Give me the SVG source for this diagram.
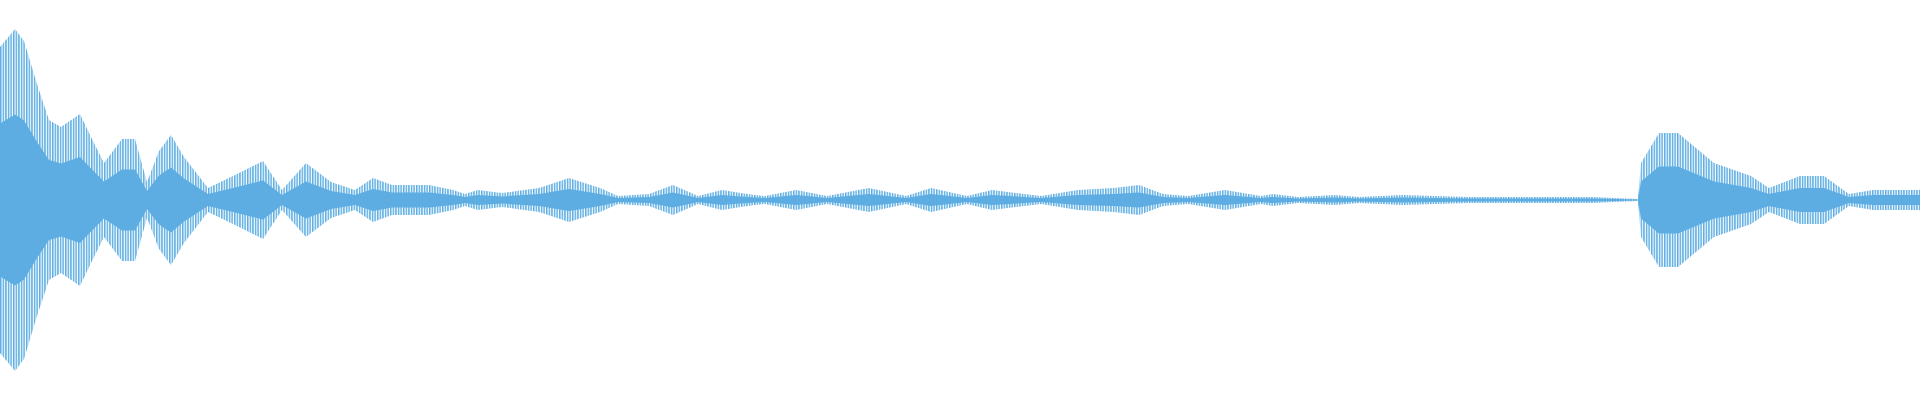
<svg xmlns="http://www.w3.org/2000/svg" xmlns:xlink="http://www.w3.org/1999/xlink" width="1920" height="400" viewBox="0 0 1920 400">
<defs>
<pattern id="st" patternUnits="userSpaceOnUse" width="2.6" height="10"><rect x="0" y="0" width="1.5" height="10" fill="#5dade2"/></pattern>
<path id="env" d="M0,0 L0,-153 L15,-171 L24,-159 L37,-116 L49,-80 L61,-73 L80,-86 L92,-61 L104,-37 L122,-61 L135,-61 L147,-18 L159,-49 L171,-65 L184,-43 L208,-12 L233,-24 L263,-39 L282,-10 L306,-37 L331,-18 L355,-10 L373,-22 L392,-15 L429,-15 L453,-10 L465,-6 L478,-10 L502,-7 L539,-12 L569,-22 L600,-12 L618,-4 L649,-6 L673,-15 L698,-4 L722,-10 L747,-6 L765,-4 L796,-10 L827,-4 L869,-12 L906,-4 L931,-12 L967,-4 L992,-10 L1041,-4 L1078,-10 L1114,-12 L1139,-15 L1163,-6 L1188,-4 L1225,-10 L1261,-4 L1273,-6 L1298,-3 L1335,-5 L1359,-3 L1402,-5 L1469,-3 L1592,-3 L1638,-1 L1641,-37 L1659,-67 L1678,-67 L1714,-37 L1751,-24 L1769,-12 L1800,-24 L1824,-24 L1849,-6 L1873,-10 L1920,-10 L1920,0 Z"/>
</defs>
<rect width="1920" height="400" fill="#ffffff"/>
<g transform="translate(0,200)">
<use xlink:href="#env" fill="url(#st)"/>
<use xlink:href="#env" fill="url(#st)" transform="scale(1,-1)"/>
<use xlink:href="#env" fill="#5dade2" transform="scale(1,0.5)"/>
<use xlink:href="#env" fill="#5dade2" transform="scale(1,-0.5)"/>
</g>
</svg>
